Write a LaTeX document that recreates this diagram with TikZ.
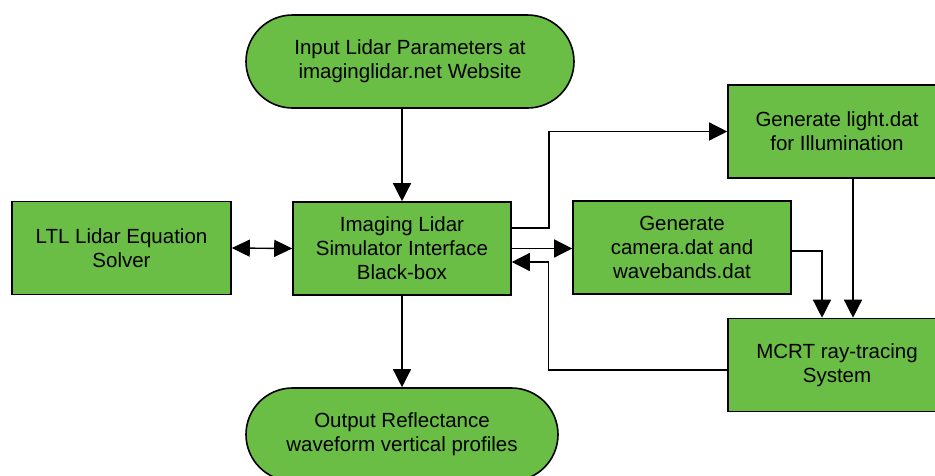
\documentclass[tikz,border=0pt]{standalone}
\usepackage{fontspec}
\setmainfont{Liberation Sans}
\usetikzlibrary{arrows.meta}
\definecolor{boxgreen}{RGB}{106,189,69}
\begin{document}
\begin{tikzpicture}[x=1pt,y=-1pt,
  base/.style={draw=black, line width=1.6pt, fill=boxgreen, align=center,
    font=\fontsize{20.5}{24}\selectfont, inner sep=0pt},
  procbox/.style={base, minimum width=218pt, minimum height=93pt},
  termbox/.style={base, minimum height=93pt, rounded corners=46.5pt},
  conn/.style={draw=black, line width=1.4pt, -{Triangle[length=18pt,width=18pt]}},
  dconn/.style={draw=black, line width=1.4pt, {Triangle[length=18pt,width=17pt]}-{Triangle[length=18pt,width=17pt]}}
]
\useasboundingbox (0,0) rectangle (935,475);
\clip (0,0) rectangle (935,475);

\node[termbox, minimum width=328pt] (top) at (410,61.5) {Input Lidar Parameters at\\imaginglidar.net Website};
\node[termbox, minimum width=312pt] (bot) at (402,434.5) {Output Reflectance\\waveform vertical profiles};
\node[procbox] (center) at (402,248.5) {Imaging Lidar\\Simulator Interface\\Black-box};
\node[procbox, minimum width=219pt] (ltl) at (121.5,248) {LTL Lidar Equation\\Solver};
\node[procbox] (cam) at (682,247.5) {Generate\\camera.dat and\\wavebands.dat};
\node[procbox] (light) at (837,131.5) {Generate light.dat\\for Illumination};
\node[procbox] (mcrt) at (837,365) {MCRT ray-tracing\\System};

\draw[conn] (center.north |- top.south) -- (center.north);
\draw[conn] (center.south) -- (bot.north);
\draw[dconn] (ltl.east) -- (center.west);
\draw[conn] ([yshift=20.5pt]center.east) -- ++(37,0) |- (light.west);
\draw[conn] (center.east) -- (center.east -| cam.west);
\draw[conn] ([yshift=-5pt]mcrt.west) -- ++(-179,0) |- ([yshift=-13.5pt]center.east);
\draw[conn] ([yshift=-3.5pt]cam.east) -| ([xshift=-15pt]mcrt.north);
\draw[conn] ([xshift=16pt]light.south) -- ([xshift=16pt]mcrt.north);
\end{tikzpicture}
\end{document}
